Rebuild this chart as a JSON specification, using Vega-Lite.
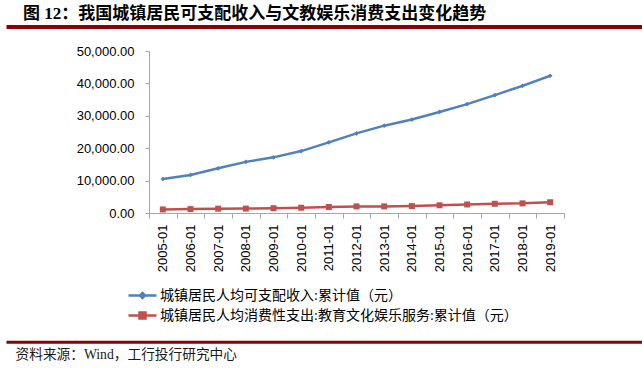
{
  "$schema": "https://vega.github.io/schema/vega-lite/v6.json",
  "width": 415,
  "height": 162,
  "autosize": {"type": "none"},
  "padding": {"left": 149, "top": 51, "right": 78, "bottom": 157},
  "background": "white",
  "title": {
    "text": "图 12：我国城镇居民可支配收入与文教娱乐消费支出变化趋势",
    "anchor": "start",
    "frame": "group",
    "dx": -126,
    "offset": 4,
    "font": "Liberation Serif, Noto Sans CJK SC",
    "fontSize": 17,
    "fontWeight": "bold",
    "color": "#000000"
  },
  "config": {"view": {"stroke": null}, "axis": {"grid": false}},
  "data": {
    "values": [
      {"date": "2005-01", "series": "城镇居民人均可支配收入:累计值（元）", "value": 10493},
      {"date": "2006-01", "series": "城镇居民人均可支配收入:累计值（元）", "value": 11759},
      {"date": "2007-01", "series": "城镇居民人均可支配收入:累计值（元）", "value": 13786},
      {"date": "2008-01", "series": "城镇居民人均可支配收入:累计值（元）", "value": 15781},
      {"date": "2009-01", "series": "城镇居民人均可支配收入:累计值（元）", "value": 17175},
      {"date": "2010-01", "series": "城镇居民人均可支配收入:累计值（元）", "value": 19109},
      {"date": "2011-01", "series": "城镇居民人均可支配收入:累计值（元）", "value": 21810},
      {"date": "2012-01", "series": "城镇居民人均可支配收入:累计值（元）", "value": 24565},
      {"date": "2013-01", "series": "城镇居民人均可支配收入:累计值（元）", "value": 26955},
      {"date": "2014-01", "series": "城镇居民人均可支配收入:累计值（元）", "value": 28844},
      {"date": "2015-01", "series": "城镇居民人均可支配收入:累计值（元）", "value": 31195},
      {"date": "2016-01", "series": "城镇居民人均可支配收入:累计值（元）", "value": 33616},
      {"date": "2017-01", "series": "城镇居民人均可支配收入:累计值（元）", "value": 36396},
      {"date": "2018-01", "series": "城镇居民人均可支配收入:累计值（元）", "value": 39251},
      {"date": "2019-01", "series": "城镇居民人均可支配收入:累计值（元）", "value": 42359},
      {"date": "2005-01", "series": "城镇居民人均消费性支出:教育文化娱乐服务:累计值（元）", "value": 1097},
      {"date": "2006-01", "series": "城镇居民人均消费性支出:教育文化娱乐服务:累计值（元）", "value": 1203},
      {"date": "2007-01", "series": "城镇居民人均消费性支出:教育文化娱乐服务:累计值（元）", "value": 1329},
      {"date": "2008-01", "series": "城镇居民人均消费性支出:教育文化娱乐服务:累计值（元）", "value": 1358},
      {"date": "2009-01", "series": "城镇居民人均消费性支出:教育文化娱乐服务:累计值（元）", "value": 1472},
      {"date": "2010-01", "series": "城镇居民人均消费性支出:教育文化娱乐服务:累计值（元）", "value": 1628},
      {"date": "2011-01", "series": "城镇居民人均消费性支出:教育文化娱乐服务:累计值（元）", "value": 1852},
      {"date": "2012-01", "series": "城镇居民人均消费性支出:教育文化娱乐服务:累计值（元）", "value": 2034},
      {"date": "2013-01", "series": "城镇居民人均消费性支出:教育文化娱乐服务:累计值（元）", "value": 2041},
      {"date": "2014-01", "series": "城镇居民人均消费性支出:教育文化娱乐服务:累计值（元）", "value": 2142},
      {"date": "2015-01", "series": "城镇居民人均消费性支出:教育文化娱乐服务:累计值（元）", "value": 2383},
      {"date": "2016-01", "series": "城镇居民人均消费性支出:教育文化娱乐服务:累计值（元）", "value": 2638},
      {"date": "2017-01", "series": "城镇居民人均消费性支出:教育文化娱乐服务:累计值（元）", "value": 2847},
      {"date": "2018-01", "series": "城镇居民人均消费性支出:教育文化娱乐服务:累计值（元）", "value": 2974},
      {"date": "2019-01", "series": "城镇居民人均消费性支出:教育文化娱乐服务:累计值（元）", "value": 3328}
    ]
  },
  "resolve": {"scale": {"x": "independent"}, "axis": {"x": "independent"}},
  "layer": [
    {
      "encoding": {
        "x": {
          "field": "date",
          "type": "ordinal",
          "scale": {"type": "band", "paddingInner": 0, "paddingOuter": 0},
          "axis": {
            "title": null,
            "labelAngle": -90,
            "tickBand": "extent",
            "tickSize": 5,
            "labelPadding": 6,
            "labelFont": "Liberation Sans",
            "labelFontSize": 13,
            "labelColor": "#000000",
            "domainColor": "#A6A6A6",
            "tickColor": "#A6A6A6"
          }
        },
        "y": {
          "field": "value",
          "type": "quantitative",
          "scale": {"domain": [0, 50000], "nice": false},
          "axis": {
            "title": null,
            "values": [0, 10000, 20000, 30000, 40000, 50000],
            "tickCount": 6,
            "format": ",.2f",
            "labelOverlap": false,
            "labelBound": false,
            "labelFlush": false,
            "tickSize": 4,
            "labelPadding": 11,
            "labelFont": "Liberation Sans",
            "labelFontSize": 13,
            "labelColor": "#000000",
            "domainColor": "#A6A6A6",
            "tickColor": "#A6A6A6"
          }
        },
        "color": {
          "field": "series",
          "type": "nominal",
          "sort": null,
          "scale": {
            "domain": ["城镇居民人均可支配收入:累计值（元）", "城镇居民人均消费性支出:教育文化娱乐服务:累计值（元）"],
            "range": ["#4F81BD", "#C0504D"]
          },
          "legend": {
            "orient": "none",
            "legendX": -18,
            "legendY": 233,
            "title": null,
            "padding": 0,
            "symbolSize": 400,
            "symbolStrokeWidth": 2.5,
            "labelFont": "Liberation Serif, Noto Sans CJK SC",
            "labelFontSize": 14,
            "labelColor": "#000000",
            "labelLimit": 600,
            "labelOffset": 6,
            "rowPadding": 1,
            "encode": {
              "symbols": {
                "update": {
                  "shape": {"signal": "datum.value === '城镇居民人均可支配收入:累计值（元）' ? 'M-1.4,0H1.4M0,-0.25L0.25,0L0,0.25L-0.25,0Z' : 'M-1.4,0H1.4M-0.3,-0.3H0.3V0.3H-0.3Z'"},
                  "fill": {"scale": "color", "field": "value"},
                  "stroke": {"scale": "color", "field": "value"},
                  "opacity": {"value": 1},
                  "fillOpacity": {"value": 1},
                  "strokeOpacity": {"value": 1}
                }
              }
            }
          }
        }
      },
      "layer": [
        {"mark": {"type": "line", "strokeWidth": 2.5}},
        {
          "mark": {"type": "point", "filled": true, "opacity": 1},
          "encoding": {
            "shape": {
              "field": "series",
              "type": "nominal",
              "sort": null,
              "scale": {"range": ["diamond", "square"]},
              "legend": null
            },
            "size": {
              "field": "series",
              "type": "nominal",
              "sort": null,
              "scale": {"range": [22, 36]},
              "legend": null
            }
          }
        }
      ]
    },
    {
      "mark": {"type": "point", "opacity": 0},
      "encoding": {
        "x": {
          "field": "date",
          "type": "ordinal",
          "scale": {"range": [-143, 493]},
          "axis": {
            "orient": "top",
            "offset": 24.5,
            "labels": false,
            "ticks": false,
            "title": null,
            "domainColor": "#8B0000",
            "domainWidth": 4
          }
        }
      }
    },
    {
      "mark": {"type": "point", "opacity": 0},
      "encoding": {
        "x": {
          "field": "date",
          "type": "ordinal",
          "scale": {"range": [-143, 493]},
          "axis": {
            "orient": "bottom",
            "offset": 128.7,
            "labels": false,
            "ticks": false,
            "domainColor": "#8B0000",
            "domainWidth": 3,
            "title": "资料来源：Wind，工行投行研究中心",
            "titleX": -134,
            "titleY": 13,
            "titleAlign": "left",
            "titleAnchor": null,
            "titleBaseline": "middle",
            "titleFont": "Liberation Serif, Noto Sans CJK SC",
            "titleFontSize": 13.7,
            "titleFontWeight": "normal",
            "titleColor": "#1A1A1A"
          }
        }
      }
    }
  ]
}
